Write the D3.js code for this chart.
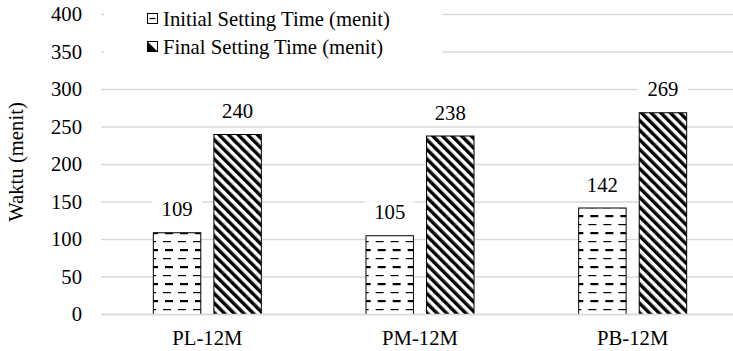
<!DOCTYPE html>
<html>
<head>
<meta charset="utf-8">
<script src="https://cdn.jsdelivr.net/npm/d3@7/dist/d3.min.js"></script>
</head>
<body style="margin:0">
<svg id="fig" width="733" height="351"></svg>
<script>
// Data
const categories = ["PL-12M", "PM-12M", "PB-12M"];
const seriesNames = ["Initial Setting Time (menit)", "Final Setting Time (menit)"];
const initialValues = [109, 105, 142];
const finalValues = [240, 238, 269];
const yTicks = [0, 50, 100, 150, 200, 250, 300, 350, 400];
const yLabel = "Waktu (menit)";

const seriesValues = [initialValues, finalValues];
const rows = categories.map((c, i) => ({ cat: c, vals: seriesValues.map(s => s[i]) }));

const svg = d3.select("#fig");
const styleText = sel => sel
  .style("font-family", "Liberation Serif", "important")
  .style("font-size", "20.7px", "important")
  .attr("fill", "#000");

const x0 = d3.scaleBand().domain(categories).range([101, 739]).padding(0);
const bw = x0.bandwidth();
const x1 = d3.scaleBand().domain(d3.range(seriesNames.length))
  .range([bw * 0.2437, bw * 0.7563]).paddingInner(0.2).paddingOuter(0);
const y = d3.scaleLinear().domain([0, 400]).range([314, 14]);

// Fill patterns
const defs = svg.append("defs");
const dash = defs.append("pattern").attr("id", "pat-dash")
  .attr("patternUnits", "userSpaceOnUse").attr("width", 15).attr("height", 17);
dash.append("rect").attr("width", 15).attr("height", 17).attr("fill", "#fff");
dash.append("rect").attr("x", 2).attr("y", 3).attr("width", 8).attr("height", 1.2).attr("fill", "#000");
dash.append("rect").attr("x", 4).attr("y", 11).attr("width", 8).attr("height", 2.2).attr("fill", "#000");

const hatch = defs.append("pattern").attr("id", "pat-hatch")
  .attr("patternUnits", "userSpaceOnUse").attr("width", 6.8).attr("height", 10)
  .attr("patternTransform", "rotate(-45)");
hatch.append("rect").attr("width", 6.8).attr("height", 10).attr("fill", "#fff");
hatch.append("rect").attr("width", 3.4).attr("height", 10).attr("fill", "#000");

const fills = ["url(#pat-dash)", "url(#pat-hatch)"];

// Gridlines
svg.append("g").selectAll("line").data(yTicks).join("line")
  .attr("x1", 101).attr("x2", 739)
  .attr("y1", d => y(d) + 0.5).attr("y2", d => y(d) + 0.5)
  .attr("stroke", "#d9d9d9").attr("stroke-width", 1.3);

// Y axis tick labels
const yAxis = d3.axisLeft(y).tickValues(yTicks).tickSize(0).tickPadding(0);
const gy = svg.append("g").attr("transform", "translate(82,0)").call(yAxis);
gy.select(".domain").remove();
gy.selectAll("text").call(styleText).attr("dy", "0.33em");

// Y axis title
svg.append("text")
  .attr("transform", `translate(23,${(y(0) + y(400)) / 2 - 2}) rotate(-90)`)
  .attr("text-anchor", "middle")
  .call(styleText)
  .text(yLabel);

// Bars
const groups = svg.append("g").selectAll("g").data(rows).join("g")
  .attr("transform", d => `translate(${x0(d.cat)},0)`);

groups.selectAll("rect").data(d => d.vals.map((v, j) => ({ v, j }))).join("rect")
  .attr("x", d => x1(d.j) + 0.5)
  .attr("y", d => y(d.v) + 0.5)
  .attr("width", x1.bandwidth() - 1)
  .attr("height", d => y(0) - y(d.v))
  .attr("fill", d => fills[d.j])
  .attr("stroke", "#000").attr("stroke-width", 1);

// Value labels on a white backing
groups.each(function (d) {
  const g = d3.select(this);
  d.vals.forEach((v, j) => {
    const cx = x1(j) + x1.bandwidth() / 2;
    const by = y(v) - 16;
    g.append("rect").attr("fill", "#fff")
      .attr("x", cx - 25).attr("width", 50)
      .attr("y", by - 18).attr("height", 24);
    g.append("text").attr("x", cx).attr("y", by)
      .attr("text-anchor", "middle").call(styleText).text(v);
  });
});

// Category axis line and labels
svg.append("line").attr("x1", 101).attr("x2", 739)
  .attr("y1", y(0) + 0.5).attr("y2", y(0) + 0.5)
  .attr("stroke", "#d9d9d9").attr("stroke-width", 1.3);
const xAxis = d3.axisBottom(x0).tickSize(0).tickPadding(0);
const gx = svg.append("g").attr("transform", `translate(0,${y(0)})`).call(xAxis);
gx.select(".domain").remove();
gx.selectAll("text").call(styleText).attr("dy", null).attr("y", 31);

// Legend
const legend = svg.append("g");
legend.append("rect").attr("x", 104).attr("y", 3).attr("width", 338).attr("height", 57).attr("fill", "#fff");
const legendRows = [26, 54];
seriesNames.forEach((name, j) => {
  const ly = legendRows[j];
  const m = legend.append("g").attr("transform", `translate(147.5,${ly - 12.5})`);
  m.append("rect").attr("width", 10).attr("height", 10).attr("fill", "#fff").attr("stroke", "#000").attr("stroke-width", 1);
  if (j === 0) {
    m.append("line").attr("x1", 2).attr("x2", 8).attr("y1", 5).attr("y2", 5).attr("stroke", "#000").attr("stroke-width", 1.3);
  } else {
    m.append("path").attr("d", "M0,0 L10,10 L0,10 Z").attr("fill", "#000");
  }
  legend.append("text").attr("x", 163).attr("y", ly).call(styleText).text(name);
});
</script>
</body>
</html>
